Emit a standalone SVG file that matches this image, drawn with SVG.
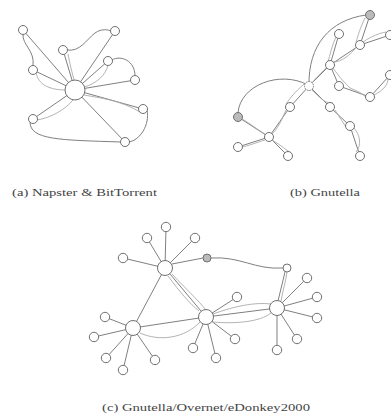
<svg xmlns="http://www.w3.org/2000/svg" width="391" height="414" viewBox="0 0 391 414">
<style>
.n{fill:#fff;stroke:#707070;stroke-width:1}
.g{fill:#bbb;stroke:#707070;stroke-width:1}
.e{stroke:#808080;stroke-width:1;fill:none}
.c{stroke:#aaa;stroke-width:0.9;fill:none}
.t{font-family:"Liberation Serif","Times New Roman",serif;font-size:10.5px;fill:#444}
</style>
<rect width="391" height="414" fill="#fff"/>
<g id="connectors">
<line class="e" x1="23" y1="30" x2="75" y2="90"/>
<line class="e" x1="115" y1="31" x2="75" y2="90"/>
<line class="e" x1="63" y1="50" x2="72" y2="80"/>
<line class="e" x1="108" y1="61" x2="75" y2="90"/>
<line class="e" x1="33" y1="70" x2="75" y2="90"/>
<line class="e" x1="135" y1="80" x2="75" y2="90"/>
<line class="e" x1="143" y1="109" x2="75" y2="90"/>
<line class="e" x1="33" y1="119" x2="75" y2="90"/>
<line class="e" x1="125" y1="142" x2="75" y2="90"/>
<path class="e" d="M23,34 C22,45 35,50 33,66"/>
<path class="e" d="M67,50 C80,52 86,40 95,33 C102,28 108,30 112,31"/>
<path class="e" d="M112,60 C120,55 135,60 135,76"/>
<path class="e" d="M147,110 C150,125 140,140 129,142"/>
<path class="e" d="M30,122 C30,140 60,140 121,142"/>
<path class="c" d="M36,72 C38,85 50,90 66,90"/>
<path class="c" d="M108,65 C106,75 96,84 84,87"/>
<path class="c" d="M37,120 C50,118 65,110 73,100"/>
<path class="c" d="M140,112 C120,100 100,98 84,95"/>
<path class="c" d="M68,54 C70,65 72,72 74,80"/>
<path class="e" d="M370,15 L360,45 L330,65 L309,86 L290,107 L269,137 L238,117"/>
<path class="e" d="M360,45 L390,35"/>
<path class="e" d="M330,65 L339,34"/>
<path class="e" d="M330,65 L339,86 L370,97 L390,75"/>
<path class="e" d="M309,86 L330,107 L350,126 L360,156"/>
<path class="e" d="M269,137 L238,147"/>
<path class="e" d="M269,137 L288,156"/>
<path class="e" d="M309,86 C308,45 330,20 366,15"/>
<path class="e" d="M308,85 C280,70 240,85 238,113"/>
<path class="c" d="M365,18 C360,28 358,36 356,42"/>
<path class="c" d="M355,49 C345,60 338,62 333,62"/>
<path class="c" d="M336,37 C332,45 330,55 328,62"/>
<path class="c" d="M326,68 C318,76 314,80 312,83"/>
<path class="c" d="M333,68 C340,78 345,83 350,88 C360,92 365,95 368,100"/>
<path class="c" d="M374,95 C384,90 388,84 388,79"/>
<path class="c" d="M363,42 C372,36 380,33 386,32"/>
<path class="c" d="M304,84 C295,92 290,98 286,104"/>
<path class="c" d="M312,90 C320,98 326,104 333,103"/>
<path class="c" d="M335,110 C340,118 344,124 346,127"/>
<path class="c" d="M354,128 C360,135 362,145 356,152"/>
<path class="c" d="M286,110 C282,118 280,126 272,134"/>
<path class="c" d="M265,134 C255,128 248,122 242,119"/>
<path class="c" d="M265,140 C255,143 248,146 242,147"/>
<path class="c" d="M272,140 C282,146 286,150 290,152"/>
<line class="e" x1="165" y1="268" x2="166" y2="227"/>
<line class="e" x1="165" y1="268" x2="195" y2="238"/>
<line class="e" x1="165" y1="268" x2="147" y2="238"/>
<line class="e" x1="165" y1="268" x2="123" y2="258"/>
<line class="e" x1="133" y1="328" x2="105" y2="317"/>
<line class="e" x1="133" y1="328" x2="94" y2="337"/>
<line class="e" x1="133" y1="328" x2="106" y2="358"/>
<line class="e" x1="133" y1="328" x2="123" y2="370"/>
<line class="e" x1="133" y1="328" x2="155" y2="360"/>
<line class="e" x1="206" y1="317" x2="237" y2="297"/>
<line class="e" x1="206" y1="317" x2="235" y2="339"/>
<line class="e" x1="206" y1="317" x2="193" y2="348"/>
<line class="e" x1="206" y1="317" x2="216" y2="358"/>
<line class="e" x1="277" y1="308" x2="307" y2="278"/>
<line class="e" x1="277" y1="308" x2="317" y2="297"/>
<line class="e" x1="277" y1="308" x2="317" y2="318"/>
<line class="e" x1="277" y1="308" x2="297" y2="339"/>
<line class="e" x1="277" y1="308" x2="277" y2="350"/>
<line class="e" x1="165" y1="268" x2="133" y2="328"/>
<line class="e" x1="165" y1="268" x2="206" y2="317"/>
<line class="e" x1="133" y1="328" x2="206" y2="317"/>
<line class="e" x1="206" y1="317" x2="277" y2="308"/>
<line class="e" x1="172" y1="264" x2="203" y2="258"/>
<path class="e" d="M211,258 C240,256 255,270 283,268"/>
<line class="e" x1="285" y1="272" x2="278" y2="301"/>
<path class="c" d="M168,276 C180,292 190,304 199,311"/>
<path class="c" d="M172,274 C185,288 198,300 206,310"/>
<path class="c" d="M140,333 C160,342 185,338 200,322"/>
<path class="c" d="M213,314 C235,306 255,302 271,304"/>
<path class="c" d="M213,322 C235,324 260,322 271,313"/>
<path class="c" d="M281,301 C283,290 286,280 287,272"/>
</g>
<g id="nodes">
<g id="a-hub"><circle class="n" cx="75" cy="90" r="10"/></g>
<g id="a1"><circle class="n" cx="23" cy="30" r="4.5"/></g>
<g id="a2"><circle class="n" cx="115" cy="31" r="4.5"/></g>
<g id="a3"><circle class="n" cx="63" cy="50" r="4.5"/></g>
<g id="a4"><circle class="n" cx="108" cy="61" r="4.5"/></g>
<g id="a5"><circle class="n" cx="33" cy="70" r="4.5"/></g>
<g id="a6"><circle class="n" cx="135" cy="80" r="4.5"/></g>
<g id="a7"><circle class="n" cx="143" cy="109" r="4.5"/></g>
<g id="a8"><circle class="n" cx="33" cy="119" r="4.5"/></g>
<g id="a9"><circle class="n" cx="125" cy="142" r="4.5"/></g>
<g id="b1"><circle class="g" cx="370" cy="15" r="4.5"/></g>
<g id="b2"><circle class="n" cx="339" cy="34" r="4.5"/></g>
<g id="b3"><circle class="n" cx="360" cy="45" r="4.5"/></g>
<g id="b4"><circle class="n" cx="390" cy="35" r="4.5"/></g>
<g id="b5"><circle class="n" cx="330" cy="65" r="4.5"/></g>
<g id="b6"><circle class="n" cx="390" cy="75" r="4.5"/></g>
<g id="b7"><circle class="n" cx="309" cy="86" r="4.5" stroke-dasharray="1.5,1"/></g>
<g id="b8"><circle class="n" cx="339" cy="86" r="4.5"/></g>
<g id="b9"><circle class="n" cx="370" cy="97" r="4.5"/></g>
<g id="b10"><circle class="n" cx="290" cy="107" r="4.5"/></g>
<g id="b11"><circle class="n" cx="330" cy="107" r="4.5"/></g>
<g id="b12"><circle class="g" cx="238" cy="117" r="4.5"/></g>
<g id="b13"><circle class="n" cx="350" cy="126" r="4.5"/></g>
<g id="b14"><circle class="n" cx="269" cy="137" r="4.5"/></g>
<g id="b15"><circle class="n" cx="238" cy="147" r="4.5"/></g>
<g id="b16"><circle class="n" cx="288" cy="156" r="4.5"/></g>
<g id="b17"><circle class="n" cx="360" cy="156" r="4.5"/></g>
<g id="cF"><circle class="n" cx="165" cy="268" r="7.5"/></g>
<g id="c4"><circle class="n" cx="133" cy="328" r="7.5"/></g>
<g id="c2"><circle class="n" cx="206" cy="317" r="7.5"/></g>
<g id="c1"><circle class="n" cx="277" cy="308" r="7.5"/></g>
<g id="cS"><circle class="g" cx="207" cy="258" r="4"/></g>
<g id="cA"><circle class="n" cx="287" cy="268" r="4"/></g>
<g id="cf1"><circle class="n" cx="166" cy="227" r="4.7"/></g>
<g id="cf2"><circle class="n" cx="195" cy="238" r="4.7"/></g>
<g id="cf3"><circle class="n" cx="147" cy="238" r="4.7"/></g>
<g id="cf4"><circle class="n" cx="123" cy="258" r="4.7"/></g>
<g id="c41"><circle class="n" cx="105" cy="317" r="4.7"/></g>
<g id="c42"><circle class="n" cx="94" cy="337" r="4.7"/></g>
<g id="c43"><circle class="n" cx="106" cy="358" r="4.7"/></g>
<g id="c44"><circle class="n" cx="123" cy="370" r="4.7"/></g>
<g id="c45"><circle class="n" cx="155" cy="360" r="4.7"/></g>
<g id="c21"><circle class="n" cx="237" cy="297" r="4.7"/></g>
<g id="c22"><circle class="n" cx="235" cy="339" r="4.7"/></g>
<g id="c23"><circle class="n" cx="193" cy="348" r="4.7"/></g>
<g id="c24"><circle class="n" cx="216" cy="358" r="4.7"/></g>
<g id="c11"><circle class="n" cx="307" cy="278" r="4.7"/></g>
<g id="c12"><circle class="n" cx="317" cy="297" r="4.7"/></g>
<g id="c13"><circle class="n" cx="317" cy="318" r="4.7"/></g>
<g id="c14"><circle class="n" cx="297" cy="339" r="4.7"/></g>
<g id="c15"><circle class="n" cx="277" cy="350" r="4.7"/></g>
</g>
<g id="labels">
<text class="t" x="12" y="196" textLength="145" lengthAdjust="spacingAndGlyphs">(a) Napster &amp; BitTorrent</text>
<text class="t" x="290" y="196" textLength="70" lengthAdjust="spacingAndGlyphs">(b) Gnutella</text>
<text class="t" x="102" y="411" textLength="208" lengthAdjust="spacingAndGlyphs">(c) Gnutella/Overnet/eDonkey2000</text>
</g>
</svg>
